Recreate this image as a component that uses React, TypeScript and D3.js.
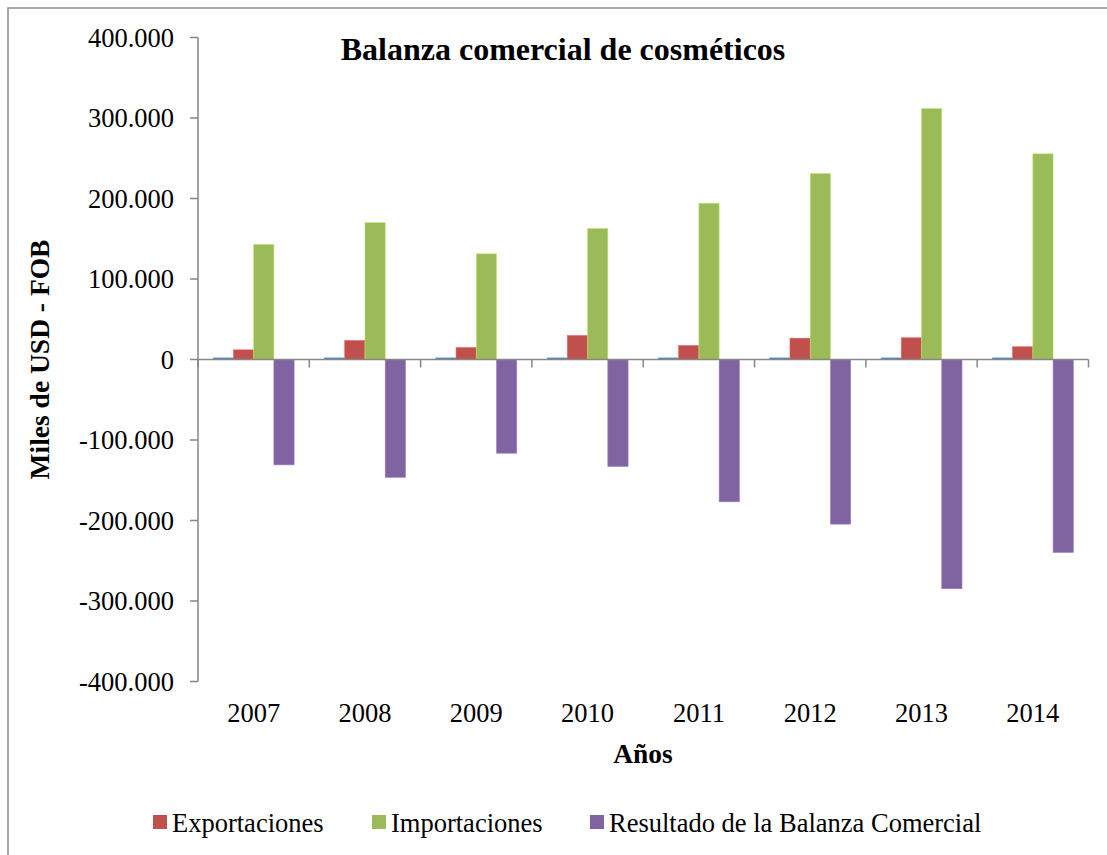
import React from "react";
import * as d3 from "d3";

const years = ["2007", "2008", "2009", "2010", "2011", "2012", "2013", "2014"];
// the year column itself got plotted as a series (tiny blue bars, not in legend)
const yearSeries = [2007, 2008, 2009, 2010, 2011, 2012, 2013, 2014];
const exportaciones = [12000, 23600, 14900, 29800, 17400, 26500, 27000, 15800];
const importaciones = [142900, 170000, 131300, 162700, 194200, 231000, 311800, 255500];
const resultado = [-130900, -146400, -116400, -132900, -176800, -204500, -284800, -239700];
const yTicks = [400000, 300000, 200000, 100000, 0, -100000, -200000, -300000, -400000];

const series = [
  { name: "Año", values: yearSeries, color: "#4F81BD" },
  { name: "Exportaciones", values: exportaciones, color: "#C0504D" },
  { name: "Importaciones", values: importaciones, color: "#9BBB59" },
  { name: "Resultado de la Balanza Comercial", values: resultado, color: "#8064A2" },
];

const fmt = (v: number) => {
  if (v === 0) return "0";
  const s = d3.format(",")(Math.abs(v)).replace(/,/g, ".");
  return (v < 0 ? "-" : "") + s;
};

const App = () => {
  const W = 1107;
  const H = 855;
  const left = 198;
  const right = 1088.5;
  const top = 37.5;
  const bottom = 681.5;
  const serif = "'Liberation Serif', 'Times New Roman', serif";

  const x = d3.scaleBand<string>().domain(years).range([left, right]);
  // Excel gap width 150%: each category holds 4 bars + 1.5 bar widths of gap
  const bw = x.bandwidth() / 5.5;
  const y = d3.scaleLinear().domain([-400000, 400000]).range([bottom, top]);
  const y0 = y(0);

  const legendItems = [
    { name: "Exportaciones", color: "#C0504D", x: 153 },
    { name: "Importaciones", color: "#9BBB59", x: 372 },
    { name: "Resultado de la Balanza Comercial", color: "#8064A2", x: 590 },
  ];

  return (
    <svg
      width={W}
      height={H}
      style={{ position: "absolute", left: 0, top: 0, background: "#fff" }}
      fontFamily={serif}
    >
      <rect x={8} y={8} width={1200} height={900} fill="#fff" stroke="#8a8a8a" strokeWidth={1.5} />

      <text x={563} y={60} textAnchor="middle" fontSize={32} fontWeight="bold" fill="#000">
        Balanza comercial de cosméticos
      </text>

      {/* y axis */}
      <line x1={left} x2={left} y1={top} y2={bottom} stroke="#868686" strokeWidth={1.5} />
      {yTicks.map((t) => (
        <g key={t}>
          <line x1={left - 8} x2={left} y1={y(t)} y2={y(t)} stroke="#868686" strokeWidth={1.5} />
          <text x={174} y={y(t)} dy="0.35em" textAnchor="end" fontSize={26.5} fill="#000">
            {fmt(t)}
          </text>
        </g>
      ))}

      {/* bars */}
      {series.map((s, si) =>
        s.values.map((v, i) => {
          const bx = (x(years[i]) ?? 0) + bw * 0.75 + si * bw;
          const yy = Math.min(y(v), y0);
          const h = Math.abs(y(v) - y0);
          return (
            <rect
              key={s.name + i}
              x={bx}
              y={yy}
              width={bw}
              height={Math.max(h, 0.8)}
              fill={s.color}
              stroke={d3.color(s.color)!.brighter(0.6).formatHex()}
              strokeWidth={0.6}
            />
          );
        })
      )}

      {/* x axis at zero */}
      <line x1={left} x2={right} y1={y0} y2={y0} stroke="#868686" strokeWidth={1.5} />
      {[...years.map((yr) => x(yr) ?? 0), right].map((tx, i) => (
        <line key={i} x1={tx} x2={tx} y1={y0} y2={y0 + 8} stroke="#868686" strokeWidth={1.5} />
      ))}
      {years.map((yr) => (
        <text key={yr} x={(x(yr) ?? 0) + x.bandwidth() / 2} y={722} textAnchor="middle" fontSize={26.5} fill="#000">
          {yr}
        </text>
      ))}

      <text x={643} y={763} textAnchor="middle" fontSize={27.5} fontWeight="bold" fill="#000">
        Años
      </text>
      <text
        transform={`translate(49,${(top + bottom) / 2}) rotate(-90)`}
        textAnchor="middle"
        fontSize={27.5}
        fontWeight="bold"
        fill="#000"
      >
        Miles de USD - FOB
      </text>

      {/* legend */}
      {legendItems.map((l) => (
        <g key={l.name}>
          <rect x={l.x} y={815} width={14} height={14} fill={l.color} />
          <text x={l.x + 19} y={832} fontSize={26.5} fill="#000">
            {l.name}
          </text>
        </g>
      ))}
    </svg>
  );
};

export default App;
